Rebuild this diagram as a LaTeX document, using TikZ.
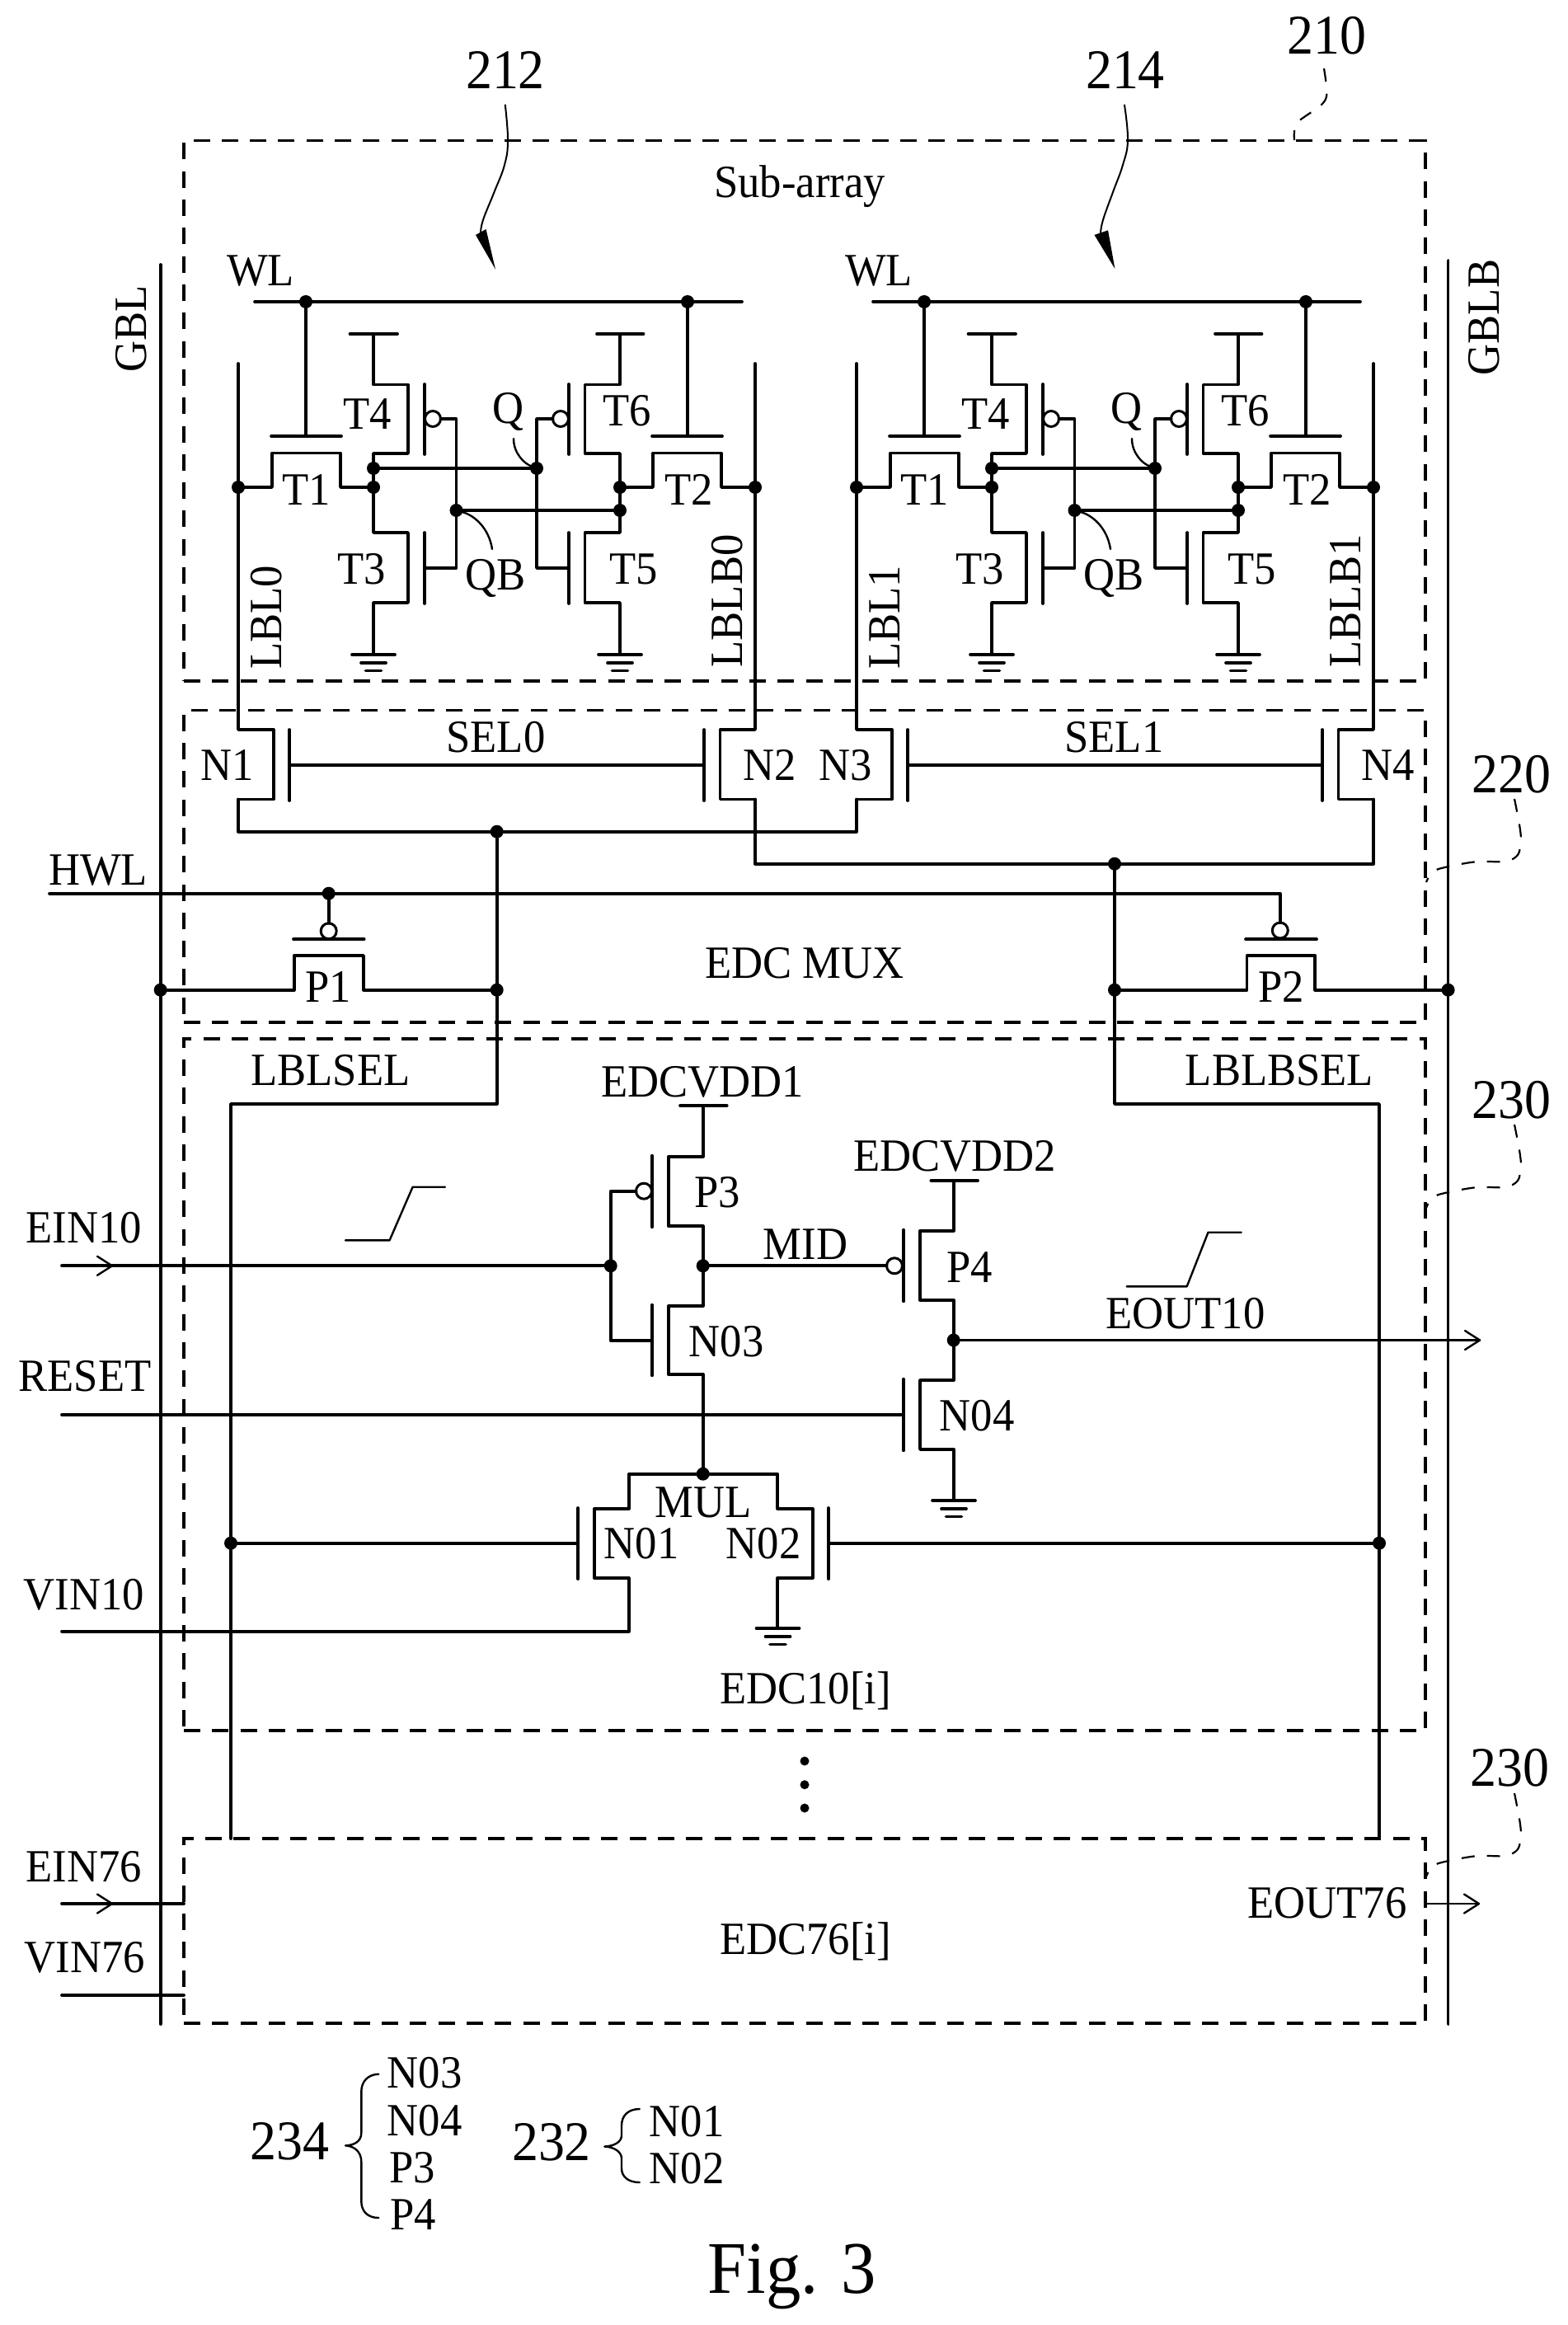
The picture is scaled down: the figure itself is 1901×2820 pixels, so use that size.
\documentclass[tikz,border=0pt]{standalone}
\usepackage{fontspec}
\setmainfont{Liberation Serif}[FakeStretch=0.94]
\tikzset{
  wire/.style={line width=3.7pt,line cap=round,line join=round,black},
  thin wire/.style={line width=2.4pt,line cap=round,line join=round,black},
  box/.style={draw,dash pattern=on 20pt off 14.3pt,line width=3.3pt,minimum width=1506pt,inner sep=0pt,outer sep=0pt},
  leader/.style={line width=2.2pt,dash pattern=on 16pt off 15pt,black},
  dot/.style={circle,fill=black,minimum size=16pt,inner sep=0pt,outer sep=0pt},
  sdot/.style={circle,fill=black,minimum size=11pt,inner sep=0pt,outer sep=0pt},
  bubble/.style={circle,draw=black,fill=white,line width=3pt,minimum size=19pt,inner sep=0pt,outer sep=0pt},
  lab/.style={inner sep=0pt,outer sep=0pt,font=\fontsize{56}{60}\selectfont,text height=37pt,text depth=0pt},
  num/.style={inner sep=0pt,outer sep=0pt,font=\fontsize{68}{72}\selectfont,text height=45pt,text depth=0pt},
  figlab/.style={inner sep=0pt,outer sep=0pt,font=\fontsize{90}{96}\selectfont,text height=59pt,text depth=0pt},
}
\newcommand{\gndsym}[2]{%
  \draw[wire] (#1-26,#2) -- (#1+26,#2);
  \draw[wire] (#1-15,#2+10) -- (#1+15,#2+10);
  \draw[wire] (#1-9.5,#2+19.4) -- (#1+9.5,#2+19.4);
}
\newcommand{\chevron}[2]{%
  \draw[thin wire] (#1-18,#2-11.5) -- (#1,#2) -- (#1-18,#2+11.5);
}
\newcommand{\cellblock}[7]{%
\begin{scope}[xshift=#1pt]
  \node[dot] (#2wa) at (371,366) {};
  \node[dot] (#2wb) at (834,366) {};
  \node[dot] (#2dL) at (289,591) {};
  \node[dot] (#2dR) at (916,591) {};
  \node[dot] (#2dN) at (453,591) {};
  \node[dot] (#2dM) at (752,591) {};
  \node[dot] (#2dA) at (453,568) {};
  \node[dot] (#2dQ) at (651,568) {};
  \node[dot] (#2dC) at (553.5,619) {};
  \node[dot] (#2dB) at (752,619) {};
  \coordinate (#2wlL) at (309,366);
  \coordinate (#2wlR) at (900,366);
  % word line
  \draw[wire] (#2wlL) -- (#2wlR);
  \draw[wire] (#2wa) -- (371,529);
  \draw[wire] (#2wb) -- (834,529);
  \draw[wire] (329,529) -- (414,529);
  \draw[wire] (791,529) -- (876,529);
  % pass transistors
  \draw[wire] (#2dL) -- (330,591) -- (330,549.5) -- (413,549.5) -- (413,591) -- (#2dN);
  \draw[wire] (#2dM) -- (792,591) -- (792,549.5) -- (875,549.5) -- (875,591) -- (#2dR);
  % left inverter
  \draw[wire] (424.5,405) -- (482,405);
  \draw[wire] (453,405) -- (453,466.5) -- (495,466.5) -- (495,550) -- (453,550) -- (453,646) -- (495,646) -- (495,731) -- (453,731) -- (453,794);
  \gndsym{453}{794}
  \draw[wire] (515,466) -- (515,551);
  \draw[wire] (515,646) -- (515,732);
  % right inverter
  \draw[wire] (724,405) -- (780.5,405);
  \draw[wire] (752,405) -- (752,466.5) -- (709.5,466.5) -- (709.5,550) -- (752,550) -- (752,646) -- (709.5,646) -- (709.5,731) -- (752,731) -- (752,794);
  \gndsym{752}{794}
  \draw[wire] (690,466) -- (690,551);
  \draw[wire] (690,646) -- (690,732);
  % gate bubbles and cross coupling
  \node[bubble] (#2bA) at (525,508) {};
  \node[bubble] (#2bB) at (680,508) {};
  \draw[wire] (#2bA) -- (553.5,508) -- (553.5,689) -- (515,689);
  \draw[wire] (#2bB) -- (651,508) -- (651,689) -- (690,689);
  \draw[wire] (#2dA) -- (#2dQ);
  \draw[wire] (#2dC) -- (#2dB);
  % leaders
  \draw[thin wire] (623,532) .. controls (623,550) and (636,562) .. (#2dQ);
  \draw[thin wire] (#2dC) .. controls (575,625) and (593,640) .. (597,666);
  % bit lines and select transistors
  \draw[wire] (289,441) -- (289,885) -- (331.7,885) -- (331.7,969.5) -- (289,969.5);
  \draw[wire] (916,441) -- (916,885) -- (873.5,885) -- (873.5,969.5) -- (916,969.5);
  \draw[wire] (351,885) -- (351,971);
  \draw[wire] (854,885) -- (854,971);
  \draw[wire] (351,928) -- (854,928);
  % labels
  \node[lab] (#2wl) at (316,328) {WL};
  \node[lab] (#2t1) at (372,594) {T1};
  \node[lab] (#2t4) at (446,502) {T4};
  \node[lab] (#2t6) at (761,498) {T6};
  \node[lab] (#2t2) at (835.5,594) {T2};
  \node[lab] (#2t3) at (439,689.5) {T3};
  \node[lab] (#2t5) at (769,690) {T5};
  \node[lab] (#2q) at (616,495) {Q};
  \node[lab] (#2qb) at (601,697) {QB};
  \node[lab,rotate=90] (#2lbl) at (322.7,749) {#3};
  \node[lab,rotate=90] (#2lblb) at (881.5,729) {#4};
  \node[lab] (#2sel) at (601.5,893.5) {#5};
  \node[lab] (#2nl) at (276,928) {#6};
  \node[lab] (#2nr) at (934,928) {#7};
\end{scope}
}
\begin{document}
\begin{tikzpicture}[x=1pt,y=-1pt]
\useasboundingbox (0,0) rectangle (1901,2820);
% dashed blocks
\node[box,minimum height=655.3pt] (sub) at (976,498.35) {};
\node[box,minimum height=378.5pt] (mux) at (976,1050.75) {};
\node[box,minimum height=839pt] (edcA) at (976,1679.5) {};
\node[box,minimum height=224pt] (edcB) at (976,2342) {};
% SRAM cells with select transistors
\cellblock{0}{a}{LBL0}{LBLB0}{SEL0}{N1}{N2}
\cellblock{750}{b}{LBL1}{LBLB1}{SEL1}{N3}{N4}
% global bit lines
\node[dot] (dGL) at (194.7,1200.7) {};
\node[dot] (dGR) at (1756.6,1200.7) {};
\coordinate (gblT) at (194.7,321);
\coordinate (gblB) at (194.7,2455);
\coordinate (gbbT) at (1756.6,316);
\coordinate (gbbB) at (1756.6,2455);
\draw[wire] (gblT) -- (gblB);
\draw[wire] (gbbT) -- (gbbB);
% mux
\node[dot] (dS) at (602.7,1008.7) {};
\node[dot] (dPa) at (602.7,1200.7) {};
\node[dot] (dT) at (1352,1047.7) {};
\node[dot] (dPb) at (1352,1200.7) {};
\node[dot] (dH) at (398.7,1083.7) {};
\node[bubble] (bPa) at (398.7,1129.3) {};
\node[bubble] (bPb) at (1552.8,1128.5) {};
\draw[wire] (289,969.5) -- (289,1008.7) -- (dS) -- (1039,1008.7) -- (1039,969.5);
\draw[wire] (916,969.5) -- (916,1047.7) -- (dT) -- (1666,1047.7) -- (1666,969.5);
\coordinate (hwl) at (60,1083.7);
\draw[wire] (hwl) -- (1552.8,1083.7) -- (bPb);
\draw[wire] (dH) -- (bPa);
\draw[wire] (356,1139.3) -- (441.7,1139.3);
\draw[wire] (1511,1139.3) -- (1597,1139.3);
\draw[wire] (dGL) -- (356.7,1200.7) -- (356.7,1159) -- (441,1159) -- (441,1200.7) -- (dPa);
\draw[wire] (dPb) -- (1512.6,1200.7) -- (1512.6,1159) -- (1595.3,1159) -- (1595.3,1200.7) -- (dGR);
% select lines
\coordinate (lsA) at (280,1339);
\coordinate (lsB) at (1673,1339);
\draw[wire] (dS) -- (dPa) -- (602.7,1339) -- (lsA) -- (lsA |- edcB.north);
\draw[wire] (dT) -- (dPb) -- (1352,1339) -- (lsB) -- (lsB |- edcB.north);
% EDC block
\node[dot] (dE) at (740.7,1535.3) {};
\node[dot] (dM) at (852.7,1535.3) {};
\node[dot] (dO) at (1156.7,1625.5) {};
\node[dot] (dU) at (852.7,1787.7) {};
\node[dot] (dLs) at (280,1871.7) {};
\node[dot] (dRs) at (1673,1871.7) {};
\node[bubble] (bPc) at (781,1444.7) {};
\node[bubble] (bPd) at (1085,1535.3) {};
\coordinate (einA) at (75,1535.3);
\coordinate (rst) at (75,1716);
\coordinate (vinA) at (75,1978.7);
\draw[wire] (einA) -- (dE);
\chevron{136}{1535.3}
\draw[wire] (bPc) -- (740.7,1444.7) -- (dE) -- (740.7,1625.7) -- (791,1625.7);
\draw[wire] (825,1341) -- (881.7,1341);
\draw[wire] (852.7,1341) -- (852.7,1402.7) -- (810.7,1402.7) -- (810.7,1487.3) -- (852.7,1487.3) -- (852.7,1584) -- (810.7,1584) -- (810.7,1666.7) -- (852.7,1666.7) -- (dU);
\draw[wire] (791,1401.7) -- (791,1488.3);
\draw[wire] (791,1582.7) -- (791,1668.3);
\draw[wire] (dM) -- (bPd);
\draw[wire] (1096,1491.7) -- (1096,1578.3);
\draw[wire] (1096,1672.7) -- (1096,1759.3);
\draw[wire] (rst) -- (1096,1716);
\draw[wire] (1129.3,1432) -- (1186,1432);
\draw[wire] (1156.7,1432) -- (1156.7,1492.7) -- (1116,1492.7) -- (1116,1576.7) -- (1156.7,1576.7) -- (1156.7,1674) -- (1116,1674) -- (1116,1758) -- (1156.7,1758) -- (1156.7,1820);
\gndsym{1157}{1820}
\draw[thin wire] (dO) -- (1795,1625.5);
\chevron{1795}{1625.5}
\draw[wire] (vinA) -- (762.7,1978.7) -- (762.7,1913.7) -- (720.7,1913.7) -- (720.7,1830) -- (762.7,1830) -- (762.7,1787.7) -- (943.3,1787.7) -- (943.3,1830) -- (985.7,1830) -- (985.7,1913.7) -- (943.3,1913.7) -- (943.3,1975);
\gndsym{943.5}{1975}
\draw[wire] (701,1829) -- (701,1915);
\draw[wire] (1005,1829) -- (1005,1915);
\draw[wire] (dLs) -- (701,1871.7);
\draw[wire] (1005,1871.7) -- (dRs);
% waveforms
\draw[thin wire] (419,1504.3) -- (472.6,1504.3) -- (500.6,1439.7) -- (540,1439.7);
\draw[thin wire] (1366.7,1560.3) -- (1439.7,1560.3) -- (1465.5,1494.7) -- (1505.7,1494.7);
% ellipsis
\node[sdot] (e1) at (976,2136) {};
\node[sdot] (e2) at (976,2164.7) {};
\node[sdot] (e3) at (976,2193) {};
% EDC76 pins
\coordinate (einB) at (75,2309);
\coordinate (vinB) at (75,2420);
\coordinate (eoB) at (1794,2309);
\draw[wire] (einB) -- (einB -| edcB.west);
\chevron{136}{2309}
\draw[wire] (vinB) -- (vinB -| edcB.west);
\draw[thin wire] (eoB -| edcB.east) -- (eoB);
\chevron{1794}{2309}
% reference arrows
\draw[thin wire,line width=2pt] plot[smooth,tension=.7] coordinates {(612.8,127.3) (616,170) (612,200) (599.5,233) (586,266.7) (583,283)};
\fill (577,285) -- (589.5,278) -- (601,326.7) -- cycle;
\draw[thin wire,line width=2pt] plot[smooth,tension=.7] coordinates {(1364,127.3) (1368,170) (1362,200) (1350,233) (1338,266.7) (1335,283)};
\fill (1327.5,285) -- (1344,279.3) -- (1352.4,326) -- cycle;
\draw[leader] plot[smooth,tension=.5] coordinates {(1606,83) (1609.5,113) (1603,127) (1574,148) (1570,160) (1570,170)};
\draw[leader] plot[smooth,tension=.5] coordinates {(1837,969) (1843,1000) (1845,1020) (1841,1037) (1826,1045) (1792,1045) (1757,1051) (1738,1057) (1730,1070)};
\begin{scope}[yshift=-395pt]
\draw[leader] plot[smooth,tension=.5] coordinates {(1837,969) (1843,1000) (1845,1020) (1841,1037) (1826,1045) (1792,1045) (1757,1051) (1738,1057) (1730,1070)};
\end{scope}
\begin{scope}[yshift=-1206pt]
\draw[leader] plot[smooth,tension=.5] coordinates {(1837,969) (1843,1000) (1845,1020) (1841,1037) (1826,1045) (1792,1045) (1757,1051) (1738,1057) (1730,1070)};
\end{scope}
% braces
\draw[thin wire] (459.3,2515.7) .. controls (446,2516) and (438.3,2525) .. (438.3,2537) -- (438.3,2587) .. controls (438.3,2597) and (430,2602) .. (419,2602.3) .. controls (430,2603) and (438.3,2610) .. (438.3,2622) -- (438.3,2670) .. controls (438.3,2682) and (446,2690) .. (459.3,2690);
\draw[thin wire] (775.8,2558) .. controls (762,2558) and (754,2566) .. (754,2578) -- (754,2590) .. controls (754,2598) and (745,2603) .. (733.3,2603.5) .. controls (745,2604) and (754,2610) .. (754,2618) -- (754,2630) .. controls (754,2640) and (762,2647) .. (775.8,2647);
% labels
\node[num] (n212) at (613,85) {212};
\node[num] (n214) at (1365,85) {214};
\node[num] (n210) at (1609,43.3) {210};
\node[num] (n220) at (1833,939) {220};
\node[num] (n230a) at (1833,1334) {230};
\node[num] (n230b) at (1831,2144) {230};
\node[num] (n234) at (351.7,2597) {234};
\node[num] (n232) at (669,2597.6) {232};
\node[lab] (tSub) at (970,221.5) {Sub-array};
\node[lab,rotate=90] (tGbl) at (159,399) {GBL};
\node[lab,rotate=90] (tGbb) at (1800,385) {GBLB};
\node[lab] (tHwl) at (119,1055) {HWL};
\node[lab] (tP1) at (398,1197) {P1};
\node[lab] (tP2) at (1554,1197) {P2};
\node[lab] (tMux) at (976,1168) {EDC MUX};
\node[lab] (tLs) at (401,1298) {LBLSEL};
\node[lab] (tLb) at (1552,1298) {LBLBSEL};
\node[lab] (tVa) at (852,1312) {EDCVDD1};
\node[lab] (tVb) at (1158,1402) {EDCVDD2};
\node[lab] (tEin) at (102,1489) {EIN10};
\node[lab] (tRst) at (103,1669) {RESET};
\node[lab] (tVin) at (102,1934) {VIN10};
\node[lab] (tP3) at (870,1445.7) {P3};
\node[lab] (tP4) at (1176,1536.7) {P4};
\node[lab] (tMid) at (977,1509) {MID};
\node[lab] (tN3) at (881,1626.7) {N03};
\node[lab] (tN4) at (1185,1717) {N04};
\node[lab] (tEo) at (1438,1592.8) {EOUT10};
\node[lab] (tMul) at (852.7,1821.7) {MUL};
\node[lab] (tN1) at (778,1871.7) {N01};
\node[lab] (tN2) at (926,1871.7) {N02};
\node[lab] (tEa) at (977,2048) {EDC10[i]};
\node[lab] (tEb) at (977,2352) {EDC76[i]};
\node[lab] (tEinb) at (102,2263.6) {EIN76};
\node[lab] (tVinb) at (103,2374) {VIN76};
\node[lab] (tEob) at (1610,2308) {EOUT76};
\node[lab] (kN3) at (515,2514) {N03};
\node[lab] (kN4) at (515,2571.7) {N04};
\node[lab] (kP3) at (500,2629) {P3};
\node[lab] (kP4) at (501,2686) {P4};
\node[lab] (kN1) at (833,2573) {N01};
\node[lab] (kN2) at (833,2630) {N02};
\node[figlab] (tFig) at (961,2752) {Fig. 3};
\end{tikzpicture}
\end{document}
